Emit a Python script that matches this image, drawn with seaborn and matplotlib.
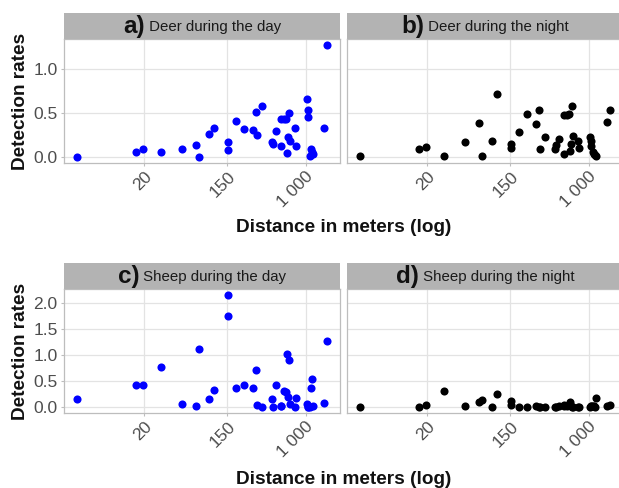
import numpy as np
import pandas as pd
import seaborn as sns
import matplotlib
matplotlib.use("Agg")
import matplotlib.pyplot as plt
from matplotlib.ticker import FixedLocator, FixedFormatter, NullLocator

# distance of every site (m), same sites in the four panels
distance = [3.9, 16.3, 19.6, 30, 50, 71, 75, 96, 110, 151, 151, 183, 222, 276, 298,
            310, 350, 445, 450, 485, 553, 555, 586, 615, 636, 651, 667, 689, 772, 797,
            1033, 1059, 1065, 1120, 1148, 1175, 1200, 1564, 1694]

deer_day = [0.0, 0.06, 0.09, 0.06, 0.09, 0.14, 0.0, 0.27, 0.33, 0.17, 0.08, 0.41, 0.32,
            0.31, 0.52, 0.25, 0.585, 0.17, 0.15, 0.30, 0.13, 0.44, 0.44, 0.44, 0.05, 0.23,
            0.50, 0.19, 0.33, 0.13, 0.66, 0.54, 0.46, 0.02, 0.09, 0.06, 0.04, 0.33, 1.28]
deer_night = [0.01, 0.09, 0.12, 0.01, 0.17, 0.385, 0.02, 0.19, 0.72, 0.15, 0.11, 0.29, 0.49,
              0.38, 0.54, 0.09, 0.23, 0.09, 0.14, 0.21, 0.04, 0.48, 0.48, 0.49, 0.075, 0.155,
              0.585, 0.245, 0.19, 0.11, 0.235, 0.19, 0.13, 0.06, 0.04, 0.03, 0.02, 0.40, 0.54]
sheep_day = [0.15, 0.42, 0.43, 0.77, 0.06, 0.02, 1.11, 0.16, 0.33, 2.15, 1.74, 0.37, 0.43,
             0.37, 0.72, 0.05, 0.0, 0.15, 0.0, 0.42, 0.02, 0.02, 0.32, 0.30, 1.02, 0.19,
             0.91, 0.06, 0.0, 0.17, 0.06, 0.0, 0.0, 0.0, 0.36, 0.54, 0.02, 0.08, 1.27]
sheep_night = [0.0, 0.0, 0.04, 0.32, 0.02, 0.10, 0.14, 0.0, 0.26, 0.12, 0.05, 0.0, 0.0,
               0.03, 0.01, 0.0, 0.0, 0.0, 0.01, 0.02, 0.03, 0.05, 0.03, 0.05, 0.11, 0.02,
               0.0, 0.01, 0.0, 0.0, 0.0, 0.02, 0.03, 0.03, 0.02, 0.0, 0.17, 0.03, 0.05]

tags = ["a)", "b)", "c)", "d)"]
titles = ["Deer during the day", "Deer during the night",
          "Sheep during the day", "Sheep during the night"]
x_ticks = [20, 150, 1000]
x_ticklabels = ["20", "150", "1 000"]
y_ticks_deer = [0.0, 0.5, 1.0]
y_ticks_sheep = [0.0, 0.5, 1.0, 1.5, 2.0]

sns.set_style("white")
plt.rcParams['font.family'] = ['Liberation Sans', 'DejaVu Sans']

W, H = 619, 488
fig = plt.figure(figsize=(W / 100, H / 100), dpi=100)

def expand(lo, hi, f=0.05):
    d = (hi - lo) * f
    return lo - d, hi + d

llo, lhi = expand(np.log10(min(distance)), np.log10(max(distance)))
xlim = (10 ** llo, 10 ** lhi)

# panels: (left px, top px, values, colour, yticks)
panels = [
    (64, 39, deer_day, "blue", y_ticks_deer),
    (347, 39, deer_night, "black", y_ticks_deer),
    (64, 289, sheep_day, "blue", y_ticks_sheep),
    (347, 289, sheep_night, "black", y_ticks_sheep),
]
pw, ph, sh = 276, 124, 26

labels = []
for i, (left, top, vals, col, yt) in enumerate(panels):
    ax = fig.add_axes([left / W, (H - top - ph) / H, pw / W, ph / H])
    df = pd.DataFrame({"distance": distance, "rate": vals})
    sns.scatterplot(data=df, x="distance", y="rate", color=col, s=34,
                    linewidth=0, ax=ax, zorder=3)
    ax.set_xscale("log")
    ax.set_xlim(xlim)
    row = deer_day + deer_night if i < 2 else sheep_day + sheep_night
    ax.set_ylim(expand(min(row), max(row)))
    ax.xaxis.set_major_locator(FixedLocator(x_ticks))
    ax.xaxis.set_major_formatter(FixedFormatter(x_ticklabels))
    ax.xaxis.set_minor_locator(NullLocator())
    ax.set_yticks(yt)
    ax.set_yticklabels([f"{v:.1f}" for v in yt])
    ax.grid(True, color="#E3E3E3", linewidth=0.9, zorder=0)
    ax.set_axisbelow(True)
    for s in ax.spines.values():
        s.set_color("#BDBDBD")
        s.set_linewidth(0.9)
    ax.tick_params(axis="both", length=2.5, width=0.8, color="#BDBDBD",
                   labelsize=12.5, labelcolor="#4D4D4D", pad=2, left=True, bottom=True)
    for t in ax.get_xticklabels():
        t.set_rotation(45)
        t.set_ha("right")
        t.set_va("top")
        t.set_rotation_mode("anchor")
    if left > 100:
        ax.set_yticklabels([])
        ax.tick_params(axis="y", length=0)
    ax.set_xlabel("")
    ax.set_ylabel("")

    # grey strip on top of each panel
    sax = fig.add_axes([left / W, (H - top) / H, pw / W, sh / H])
    sax.set_facecolor("#B3B3B3")
    sax.set_xticks([])
    sax.set_yticks([])
    for s in sax.spines.values():
        s.set_visible(False)
    t1 = sax.text(0.5, 0.47, tags[i], fontsize=17.5, fontweight="bold",
                  ha="left", va="center", transform=sax.transAxes, color="#111111")
    t2 = sax.text(0.5, 0.47, " " + titles[i], fontsize=10.8,
                  ha="left", va="center", transform=sax.transAxes, color="#1A1A1A")
    labels.append((sax, t1, t2))

# center the two-part strip labels
fig.canvas.draw()
r = fig.canvas.get_renderer()
for sax, t1, t2 in labels:
    w1 = t1.get_window_extent(r).width
    w2 = t2.get_window_extent(r).width
    aw = sax.get_window_extent(r).width
    start = 0.5 - (w1 + w2) / 2 / aw
    t1.set_x(start)
    t2.set_x(start + w1 / aw)

for top in (39, 289):
    fig.text(21 / W, (H - top - ph / 2) / H, "Detection rates", rotation=90,
             fontsize=13.7, fontweight="bold", ha="center", va="center", color="#111111")
fig.text(344 / W, (H - 227) / H, "Distance in meters (log)", fontsize=13.7,
         fontweight="bold", ha="center", va="center", color="#111111")
fig.text(344 / W, (H - 480) / H, "Distance in meters (log)", fontsize=13.7,
         fontweight="bold", ha="center", va="center", color="#111111")

fig.savefig("out.png", dpi=100)
